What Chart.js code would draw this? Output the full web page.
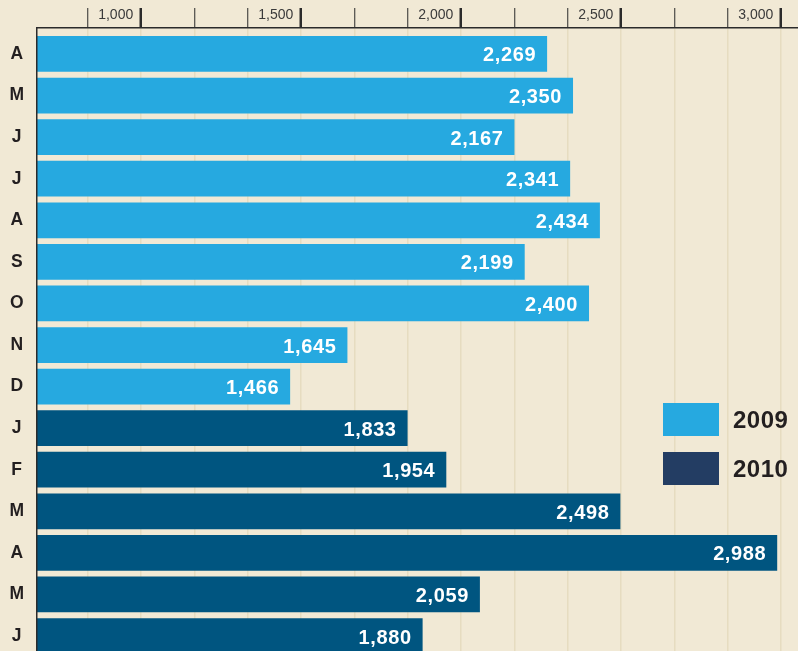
<!DOCTYPE html>
<html>
<head>
<meta charset="utf-8">
<script src="https://cdn.jsdelivr.net/npm/chart.js@4.4.1/dist/chart.umd.min.js"></script>
<style>
  html, body { margin: 0; padding: 0; background: #f1e9d5; overflow: hidden; }
  #wrap { position: relative; width: 798px; height: 651px; }
</style>
</head>
<body>
<div id="wrap"><canvas id="chart"></canvas></div>
<script>
// data
const months = ['A', 'M', 'J', 'J', 'A', 'S', 'O', 'N', 'D', 'J', 'F', 'M', 'A', 'M', 'J'];
const years = ['2009', '2010'];
const values2009 = [2269, 2350, 2167, 2341, 2434, 2199, 2400, 1645, 1466];
const values2010 = [1833, 1954, 2498, 2988, 2059, 1880];
const tickStep = 500;

const barColors = ['#26a9e0', '#005580'];
const legendColors = ['#26a9e0', '#233d63'];
const FONT = '"Liberation Sans", Arial, Helvetica, sans-serif';

function fmt(v) {
    return String(Math.round(v)).replace(/\B(?=(\d{3})+(?!\d))/g, ',');
}

const data2009 = values2009.map((v, i) => ({ x: v, y: i }));
const data2010 = values2010.map((v, i) => ({ x: v, y: i + values2009.length }));

// labels at the end of each bar + legend on the right
const labelPlugin = {
    id: 'barLabels',
    afterDatasetsDraw(chart) {
        const ctx = chart.ctx;
        ctx.save();
        ctx.font = 'bold 20px ' + FONT;
        ctx.letterSpacing = '0.6px';
        ctx.fillStyle = '#ffffff';
        ctx.textAlign = 'right';
        ctx.textBaseline = 'middle';
        chart.data.datasets.forEach((ds, di) => {
            chart.getDatasetMeta(di).data.forEach((bar, i) => {
                ctx.fillText(fmt(ds.data[i].x), bar.x - 11, bar.y + 2);
            });
        });
        ctx.restore();
    },
    afterDraw(chart) {
        const ctx = chart.ctx;
        ctx.save();
        ctx.font = 'bold 24px ' + FONT;
        ctx.letterSpacing = '0.5px';
        ctx.textBaseline = 'middle';
        ctx.textAlign = 'left';
        years.forEach((y, i) => {
            const top = 403 + i * 49;
            ctx.fillStyle = legendColors[i];
            ctx.fillRect(663, top, 56, 33);
            ctx.fillStyle = '#231f20';
            ctx.fillText(y, 733, top + 18);
        });
        ctx.restore();
    }
};

const ctx = document.getElementById('chart').getContext('2d');
const myChart = new Chart(ctx, {
    type: 'bar',
    data: {
        datasets: [
            { label: years[0], data: data2009, backgroundColor: barColors[0], grouped: false },
            { label: years[1], data: data2010, backgroundColor: barColors[1], grouped: false }
        ]
    },
    options: {
        indexAxis: 'y',
        responsive: true,
        maintainAspectRatio: false,
        animation: false,
        devicePixelRatio: 1,
        layout: { padding: 0 },
        barPercentage: 0.86,
        categoryPercentage: 1,
        plugins: {
            legend: { display: false },
            tooltip: { enabled: false }
        },
        scales: {
            x: {
                type: 'linear',
                position: 'top',
                min: 675,
                max: 3053,
                afterBuildTicks: (scale) => {
                    const ticks = [];
                    for (let k = 0; ; k++) {
                        const v = tickStep + k * tickStep / 3;
                        if (v > scale.max) break;
                        if (v >= scale.min) ticks.push({ value: v });
                    }
                    scale.ticks = ticks;
                },
                afterFit: (scale) => {
                    scale.height = 28;
                    scale.paddingLeft = 0;
                    scale.paddingRight = 0;
                },
                grid: {
                    color: '#e6dcc0',
                    lineWidth: 1.5,
                    drawTicks: true,
                    tickLength: 20,
                    tickColor: '#2b2b2b',
                    tickWidth: (c) => (c.tick && Math.round(c.tick.value) % tickStep === 0) ? 2.5 : 1
                },
                border: { display: true, color: '#2b2b2b', width: 1.5, z: 1 },
                ticks: {
                    autoSkip: false,
                    maxRotation: 0,
                    align: 'end',
                    padding: -16,
                    color: '#3a3a3a',
                    font: { family: FONT, size: 14 },
                    callback: (v) => Math.round(v) % tickStep === 0 ? fmt(v) + '  ' : ''
                }
            },
            y: {
                type: 'linear',
                reverse: true,
                offset: false,
                min: -0.625,
                max: 14.36,
                afterBuildTicks: (scale) => {
                    scale.ticks = months.map((m, i) => ({ value: i }));
                },
                afterFit: (scale) => {
                    scale.width = 37;
                    scale.paddingTop = 0;
                    scale.paddingBottom = 0;
                },
                grid: { display: false, drawTicks: false },
                border: { display: true, color: '#2b2b2b', width: 1.5, z: 1 },
                ticks: {
                    autoSkip: false,
                    crossAlign: 'center',
                    padding: 13,
                    color: '#231f20',
                    font: { family: FONT, size: 17.5, weight: 'bold' },
                    callback: (v) => months[v]
                }
            }
        }
    },
    plugins: [labelPlugin]
});
</script>
</body>
</html>
